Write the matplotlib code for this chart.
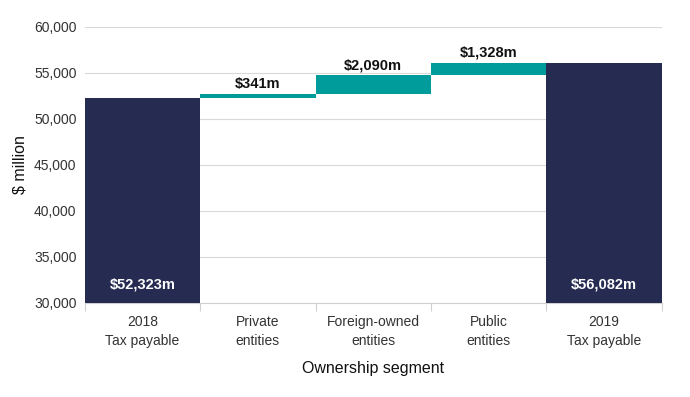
import matplotlib
matplotlib.use("Agg")
import matplotlib.pyplot as plt
from matplotlib import font_manager

categories = ["2018\nTax payable", "Private\nentities", "Foreign-owned\nentities", "Public\nentities", "2019\nTax payable"]
start_total = 52323
changes = [341, 2090, 1328]
end_total = 56082
change_labels = ["$341m", "$2,090m", "$1,328m"]
total_labels = ["$52,323m", "$56,082m"]
yticks = [30000, 35000, 40000, 45000, 50000, 55000, 60000]

names = {f.name for f in font_manager.fontManager.ttflist}
fam = "Liberation Sans Narrow" if "Liberation Sans Narrow" in names else "Liberation Sans"
plt.rcParams['font.family'] = [fam, 'DejaVu Sans']

navy = "#252b51"
teal = "#009b9b"

fig = plt.figure(figsize=(6.9, 3.97), dpi=100)
ax = fig.add_axes([0.123, 0.237, 0.836, 0.695])

ymin = 30000
x = list(range(len(categories)))
# totals
ax.bar(x[0], start_total - ymin, bottom=ymin, width=1.0, color=navy, zorder=3)
ax.bar(x[-1], end_total - ymin, bottom=ymin, width=1.0, color=navy, zorder=3)
run = start_total
for i, c in enumerate(changes):
    ax.bar(x[i + 1], c, bottom=run, width=1.0, color=teal, zorder=3)
    ax.text(x[i + 1], run + c + 350, change_labels[i], ha="center", va="bottom",
            fontsize=10.5, fontweight="bold", color="#111111")
    run += c

ax.text(x[0], 31200, total_labels[0], ha="center", va="bottom", fontsize=10.5,
        fontweight="bold", color="white", zorder=4)
ax.text(x[-1], 31200, total_labels[1], ha="center", va="bottom", fontsize=10.5,
        fontweight="bold", color="white", zorder=4)

ax.set_xlim(-0.5, len(categories) - 0.5)
ax.set_ylim(30000, 60000)
ax.set_yticks(yticks)
ax.set_yticklabels([f"{v:,}" for v in yticks], fontsize=10, color="#333333")
ax.yaxis.grid(True, color="#d9d9d9", linewidth=0.8, zorder=0)
ax.tick_params(axis="y", length=0, pad=6)

ax.set_xticks(x)
ax.set_xticklabels(categories, fontsize=10, color="#333333", linespacing=1.45)
ax.tick_params(axis="x", length=0, pad=9)
ax.set_xticks([i - 0.5 for i in range(len(categories) + 1)], minor=True)
ax.tick_params(axis="x", which="minor", length=6, color="#d0d0d0", width=0.8)

for s in ["top", "right", "left"]:
    ax.spines[s].set_visible(False)
ax.spines["bottom"].set_color("#d0d0d0")
ax.spines["bottom"].set_linewidth(0.8)

ax.set_ylabel("$ million", fontsize=11.5, color="#111111", labelpad=5)
ax.set_xlabel("Ownership segment", fontsize=11.5, color="#111111", labelpad=9)

fig.savefig("out.png", dpi=100)
